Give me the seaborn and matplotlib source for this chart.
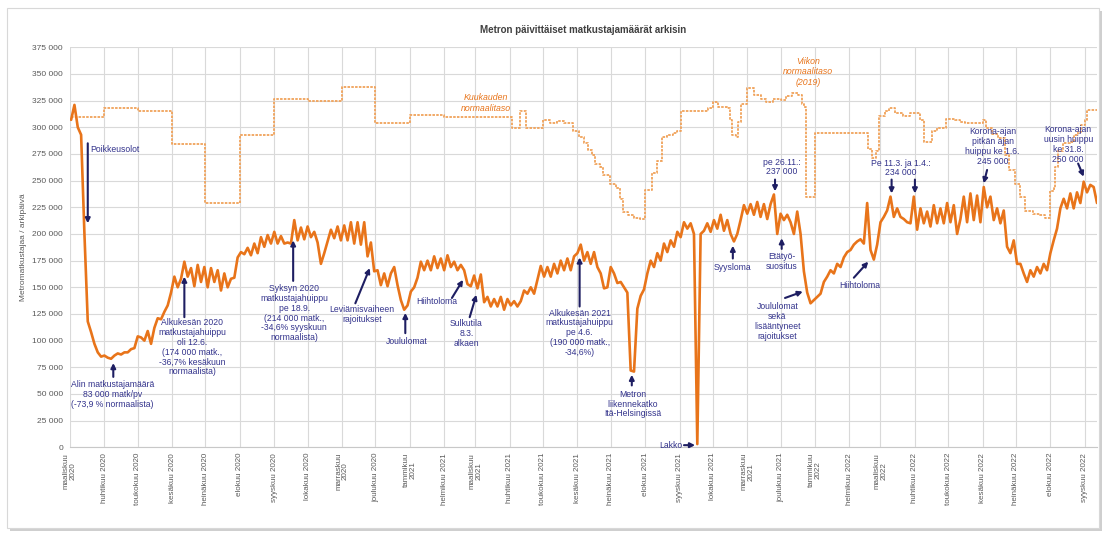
import matplotlib
matplotlib.use("Agg")
import matplotlib.pyplot as plt
import matplotlib.patches as patches
import pandas as pd
import seaborn as sns

# weekday riders, every 3rd day (thousands)
riders_start = "2020-03-02"
riders_k = [
    307, 321, 300, 293, 200, 118, 108, 97, 89, 85,
    86, 84, 83, 86, 88, 87, 89, 89, 92, 93,
    104, 103, 100, 109, 97, 112, 121, 120, 127, 133,
    145, 160, 150, 158, 174, 160, 168, 151, 171, 155,
    169, 150, 168, 155, 166, 147, 163, 150, 158, 159,
    178, 183, 181, 187, 180, 191, 182, 197, 188, 199,
    191, 202, 191, 198, 191, 192, 191, 213, 194, 206,
    195, 207, 197, 202, 192, 172, 182, 193, 204, 196,
    207, 194, 208, 194, 211, 191, 211, 190, 211, 179,
    192, 165, 166, 152, 163, 151, 163, 169, 152, 138,
    129, 133, 146, 150, 159, 174, 166, 175, 166, 179,
    168, 177, 166, 180, 169, 174, 166, 171, 166, 153,
    151, 161, 149, 162, 136, 141, 132, 139, 132, 141,
    129, 139, 133, 137, 132, 137, 147, 144, 150, 144,
    157, 170, 160, 169, 160, 172, 163, 175, 166, 177,
    166, 179, 182, 190, 175, 183, 172, 183, 169, 163,
    149, 150, 169, 163, 154, 155, 150, 145, 72, 71,
    130, 142, 148, 163, 175, 169, 182, 175, 191, 183,
    194, 188, 202, 197, 211, 205, 210, 200, 3, 200,
    203, 210, 202, 213, 205, 218, 203, 213, 200, 193,
    200, 213, 227, 219, 228, 218, 230, 216, 228, 214,
    228, 237, 200, 219, 213, 218, 211, 200, 221, 200,
    165, 145, 135, 138, 141, 144, 155, 160, 166, 163,
    172, 169, 178, 183, 185, 190, 193, 195, 191, 229,
    185, 176, 190, 211, 216, 222, 235, 216, 224, 216,
    214, 211, 210, 235, 204, 224, 210, 221, 207, 227,
    210, 224, 210, 229, 211, 227, 200, 214, 235, 211,
    238, 213, 236, 211, 244, 225, 235, 213, 224, 210,
    222, 188, 182, 194, 172, 172, 163, 155, 166, 160,
    169, 163, 172, 166, 182, 194, 205, 224, 233, 224,
    238, 224, 239, 229, 249, 239, 246, 244, 229,
]

# normal level (2019), step changes (thousands)
norm_dates = [
    "2020-03-02", "2020-04-01", "2020-05-01", "2020-06-01", "2020-07-01",
    "2020-08-01", "2020-09-01", "2020-10-01", "2020-11-01", "2020-12-01",
    "2021-01-01", "2021-02-01", "2021-04-03", "2021-04-10", "2021-04-16",
    "2021-05-01", "2021-05-07", "2021-05-14", "2021-05-20", "2021-05-28",
    "2021-06-02", "2021-06-07", "2021-06-11", "2021-06-14", "2021-06-17",
    "2021-06-21", "2021-06-24", "2021-06-30", "2021-07-06", "2021-07-09",
    "2021-07-12", "2021-07-17", "2021-07-22", "2021-07-27", "2021-08-01",
    "2021-08-07", "2021-08-12", "2021-08-16", "2021-08-21", "2021-08-26",
    "2021-08-30", "2021-09-02", "2021-09-27", "2021-10-01", "2021-10-06",
    "2021-10-14", "2021-10-16", "2021-10-18", "2021-10-22", "2021-10-24",
    "2021-10-26", "2021-11-01", "2021-11-07", "2021-11-13", "2021-11-18",
    "2021-11-24", "2021-12-01", "2021-12-06", "2021-12-11", "2021-12-17",
    "2021-12-20", "2021-12-22", "2021-12-24", "2022-01-01", "2022-02-18",
    "2022-02-21", "2022-02-25", "2022-02-28", "2022-03-05", "2022-03-09",
    "2022-03-14", "2022-03-21", "2022-03-28", "2022-04-06", "2022-04-09",
    "2022-04-16", "2022-04-21", "2022-04-29", "2022-05-07", "2022-05-12",
    "2022-05-16", "2022-06-01", "2022-06-04", "2022-06-09", "2022-06-15",
    "2022-06-21", "2022-06-25", "2022-06-30", "2022-07-05", "2022-07-09",
    "2022-07-16", "2022-07-23", "2022-07-27", "2022-08-01", "2022-08-04",
    "2022-08-05", "2022-08-08", "2022-08-12", "2022-08-19", "2022-08-22",
    "2022-08-26", "2022-08-29", "2022-09-01", "2022-09-03", "2022-09-12",
]
norm_k = [
    310, 318, 315, 284, 229, 293, 327, 325, 338, 304,
    312, 310, 299, 315, 299, 307, 304, 306, 304, 297,
    291, 285, 279, 274, 266, 263, 255, 247, 243, 233,
    221, 218, 215, 214, 241, 257, 268, 291, 293, 295,
    297, 315, 318, 324, 319, 318, 307, 293, 291, 305,
    322, 337, 330, 327, 324, 327, 326, 329, 332, 330,
    322, 319, 235, 295, 280, 271, 278, 311, 315, 318,
    313, 311, 313, 307, 286, 297, 299, 308, 307, 305,
    304, 307, 299, 294, 290, 274, 260, 247, 235, 222,
    219, 218, 215, 240, 243, 263, 278, 285, 286, 293,
    296, 302, 307, 316, 316,
]

month_labels = [
    "maaliskuu\n2020", "huhtikuu 2020", "toukokuu 2020", "kesäkuu 2020",
    "heinäkuu 2020", "elokuu 2020", "syyskuu 2020", "lokakuu 2020",
    "marraskuu\n2020", "joulukuu 2020", "tammikuu\n2021", "helmikuu 2021",
    "maaliskuu\n2021", "huhtikuu 2021", "toukokuu 2021", "kesäkuu 2021",
    "heinäkuu 2021", "elokuu 2021", "syyskuu 2021", "lokakuu 2021",
    "marraskuu\n2021", "joulukuu 2021", "tammikuu\n2022", "helmikuu 2022",
    "maaliskuu\n2022", "huhtikuu 2022", "toukokuu 2022", "kesäkuu 2022",
    "heinäkuu 2022", "elokuu 2022", "syyskuu 2022",
]

# annotation texts: text, date, value, ha, va
notes = [
    ("Poikkeusolot", "2020-03-19", 279000, "left", "center"),
    ("Alin matkustajamäärä\n83 000 matk/pv\n(-73,9 % normaalista)", "2020-04-08", 63000, "center", "top"),
    ("Alkukesän 2020\nmatkustajahuippu\noli 12.6.\n(174 000 matk.,\n-36,7% kesäkuun\nnormaalista)", "2020-06-19", 121000, "center", "top"),
    ("Syksyn 2020\nmatkustajahuippu\npe 18.9.\n(214 000 matk.,\n-34,6% syyskuun\nnormaalista)", "2020-09-19", 153000, "center", "top"),
    ("Leviämisvaiheen\nrajoitukset", "2020-11-19", 133000, "center", "top"),
    ("Joululomat", "2020-12-29", 99000, "center", "center"),
    ("Hiihtoloma", "2021-01-25", 136500, "center", "center"),
    ("Sulkutila\n8.3.\nalkaen", "2021-02-21", 120000, "center", "top"),
    ("Alkukesän 2021\nmatkustajahuippu\npe 4.6.\n(190 000 matk.,\n-34,6%)", "2021-06-03", 130000, "center", "top"),
    ("Metron\nliikennekatko\nItä-Helsingissä", "2021-07-21", 54000, "center", "top"),
    ("Lakko", "2021-09-04", 2000, "right", "center"),
    ("Syysloma", "2021-10-19", 169000, "center", "center"),
    ("pe 26.11.:\n237 000", "2021-12-02", 254000, "center", "bottom"),
    ("Etätyö-\nsuositus", "2021-12-02", 183000, "center", "top"),
    ("Joululomat\nsekä\nlisääntyneet\nrajoitukset", "2021-11-28", 136000, "center", "top"),
    ("Hiihtoloma", "2022-02-10", 152000, "center", "center"),
    ("Pe 11.3. ja 1.4.:\n234 000", "2022-03-19", 253000, "center", "bottom"),
    ("Korona-ajan\npitkän ajan\nhuippu ke 1.6.\n245 000", "2022-06-10", 264000, "center", "bottom"),
    ("Korona-ajan\nuusin huippu\nke 31.8.\n250 000", "2022-08-17", 266000, "center", "bottom"),
]

# arrows: from (date, value) to (date, value)
arrows = [
    ("2020-03-17", 285000, "2020-03-17", 210000),
    ("2020-04-09", 66000, "2020-04-09", 79000),
    ("2020-06-12", 122000, "2020-06-12", 160000),
    ("2020-09-18", 156000, "2020-09-18", 194000),
    ("2020-11-13", 135000, "2020-11-26", 168000),
    ("2020-12-28", 107000, "2020-12-28", 126000),
    ("2021-02-08", 140000, "2021-02-18", 157000),
    ("2021-02-24", 122000, "2021-03-02", 143000),
    ("2021-06-03", 132000, "2021-06-03", 178000),
    ("2021-07-20", 58000, "2021-07-20", 68000),
    ("2021-09-05", 2000, "2021-09-15", 2000),
    ("2021-10-19", 177000, "2021-10-19", 189000),
    ("2021-11-26", 251000, "2021-11-26", 240000),
    ("2021-12-02", 186000, "2021-12-02", 196000),
    ("2021-12-05", 140000, "2021-12-21", 146000),
    ("2022-02-05", 159000, "2022-02-18", 174000),
    ("2022-03-11", 251000, "2022-03-11", 238000),
    ("2022-04-01", 251000, "2022-04-01", 238000),
    ("2022-06-05", 260000, "2022-06-02", 247500),
    ("2022-08-26", 266000, "2022-08-31", 253700),
]

riders = pd.DataFrame({
    "date": pd.date_range(riders_start, periods=len(riders_k), freq="3D"),
    "value": [v * 1000 for v in riders_k],
})
normal = pd.DataFrame({
    "date": pd.to_datetime(norm_dates),
    "value": [v * 1000 for v in norm_k],
})

sns.set_theme(style="whitegrid")
plt.rcParams["font.family"] = ["Liberation Sans", "DejaVu Sans"]

W, H = 1108, 540
fig = plt.figure(figsize=(W / 100, H / 100), dpi=100)
fig.patch.set_facecolor("white")

# panel frame with a light shadow
fig.patches.append(patches.Rectangle((10 / W, 1 - 531 / H), 1092 / W, 520 / H,
                                     transform=fig.transFigure, facecolor="#cfcfcf",
                                     edgecolor="none", zorder=-20))
fig.patches.append(patches.Rectangle((7 / W, 1 - 528 / H), 1092 / W, 520 / H,
                                     transform=fig.transFigure, facecolor="white",
                                     edgecolor="#d8d8d8", lw=0.8, zorder=-10))

ax = fig.add_axes([70 / W, 1 - 447.3 / H, 1027 / W, 400 / H])
ax.patch.set_alpha(0)

orange = "#e8741a"
sns.lineplot(data=normal, x="date", y="value", ax=ax, color="#f0a25a", lw=1.3,
             linestyle=(0, (1.4, 0.7)), drawstyle="steps-post", errorbar=None, zorder=2)
sns.lineplot(data=riders, x="date", y="value", ax=ax, color=orange, lw=1.9,
             errorbar=None, zorder=3)

ax.set_xlim(pd.Timestamp("2020-03-01"), pd.Timestamp("2022-09-12"))
ax.set_ylim(0, 375000)

yt = list(range(0, 375001, 25000))
ax.set_yticks(yt)
ax.set_yticklabels([f"{v:,}".replace(",", " ") for v in yt], fontsize=6, color="#595959")
xt = pd.date_range("2020-03-01", "2022-09-01", freq="MS")
ax.set_xticks(xt)
ax.set_xticklabels(month_labels, rotation=90, fontsize=5.8, color="#595959",
                   ha="center", va="top", linespacing=1.0)
ax.tick_params(axis="both", length=0)
ax.tick_params(axis="y", pad=5)
ax.tick_params(axis="x", pad=4)

ax.grid(True, color="#d9d9d9", lw=0.8)
for s in ["top", "right", "left"]:
    ax.spines[s].set_visible(False)
ax.spines["bottom"].set_color("#c8c8c8")
ax.spines["bottom"].set_linewidth(0.8)

ax.set_xlabel("")
ax.set_ylabel("Metromatkustajaa / arkipäivä", fontsize=6, color="#595959", labelpad=4)

fig.text(583 / W, 1 - 30 / H, "Metron päivittäiset matkustajamäärät arkisin",
         ha="center", va="center", fontsize=7, fontweight="bold", color="#404040")

# series labels
ax.text(pd.Timestamp("2021-03-11"), 323000, "Kuukauden\nnormaalitaso", color=orange,
        fontsize=6.3, style="italic", ha="center", va="center", linespacing=1.25)
ax.text(pd.Timestamp("2021-12-26"), 352000, "Viikon\nnormaalitaso\n(2019)", color=orange,
        fontsize=6.3, style="italic", ha="center", va="center", linespacing=1.25)

note_color = "#33338c"
for txt, d, v, ha, va in notes:
    ax.text(pd.Timestamp(d), v, txt, fontsize=6.2, color=note_color, ha=ha, va=va,
            linespacing=1.12, zorder=5)

for d0, v0, d1, v1 in arrows:
    ax.annotate("", xy=(pd.Timestamp(d1), v1), xytext=(pd.Timestamp(d0), v0),
                arrowprops=dict(arrowstyle="-|>", color="#1e1e62", lw=1.5,
                                mutation_scale=7, shrinkA=0, shrinkB=0), zorder=6)

fig.savefig("out.png", dpi=100)
